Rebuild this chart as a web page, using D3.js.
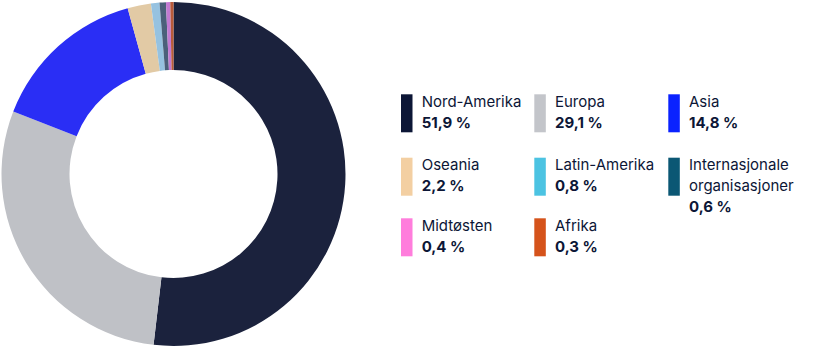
<!DOCTYPE html>
<html>
<head>
<meta charset="utf-8">
<script src="https://cdn.jsdelivr.net/npm/d3@7"></script>
<style>
  body { margin: 0; background: #fff; }
  text { font-family: Inter, "Noto Sans", sans-serif; }
</style>
</head>
<body>
<svg id="chart" width="813" height="354"></svg>
<script>
const regions = ['Nord-Amerika', 'Europa', 'Asia', 'Oseania', 'Latin-Amerika', 'Internasjonale organisasjoner', 'Midtøsten', 'Afrika'];
const shares = [51.9, 29.1, 14.8, 2.2, 0.8, 0.6, 0.4, 0.3];
const valueLabels = ['51,9 %', '29,1 %', '14,8 %', '2,2 %', '0,8 %', '0,6 %', '0,4 %', '0,3 %'];

// legend swatches use the pure colours, the ring is drawn a bit softer
const swatchColors = ['#0c1636', '#c3c5ca', '#0a22ff', '#f3cfa2', '#4cc3e2', '#0b5774', '#ff7ddc', '#d5531b'];
const arcColors = ['#1b223d', '#bfc1c6', '#2a2ef5', '#e2caa5', '#96c2e0', '#4b607a', '#c27ad2', '#b85a3a'];

const svg = d3.select('#chart');

const cx = 173.5, cy = 174, outerR = 172, innerR = 104;

const pie = d3.pie().sort(null).value(d => d);
const arc = d3.arc().innerRadius(innerR).outerRadius(outerR);

svg.append('g')
  .attr('transform', `translate(${cx},${cy})`)
  .selectAll('path')
  .data(pie(shares))
  .enter().append('path')
  .attr('d', arc)
  .attr('fill', (d, i) => arcColors[i]);

// legend: 3 columns, rows wrap
const colX = [401, 534.3, 668.3];
const rowY = [94.3, 157.7, 218.3];
const textDark = '#0c1636';

const item = svg.append('g').selectAll('g')
  .data(regions)
  .enter().append('g')
  .attr('transform', (d, i) => `translate(${colX[i % 3]},${rowY[Math.floor(i / 3)]})`);

item.append('rect')
  .attr('width', 11.5)
  .attr('height', 38)
  .attr('fill', (d, i) => swatchColors[i]);

item.each(function (name, i) {
  const g = d3.select(this);
  const lines = name === 'Internasjonale organisasjoner' ? ['Internasjonale', 'organisasjoner'] : [name];
  lines.forEach((l, j) => {
    g.append('text')
      .attr('x', 20.7)
      .attr('y', 12.5 + j * 20.5)
      .attr('font-size', 15)
      .attr('fill', textDark)
      .text(l);
  });
  g.append('text')
    .attr('x', 20.7)
    .attr('y', 33.4 + (lines.length - 1) * 20.5)
    .attr('font-size', 15)
    .attr('font-weight', 700)
    .attr('fill', textDark)
    .text(valueLabels[i]);
});
</script>
</body>
</html>
